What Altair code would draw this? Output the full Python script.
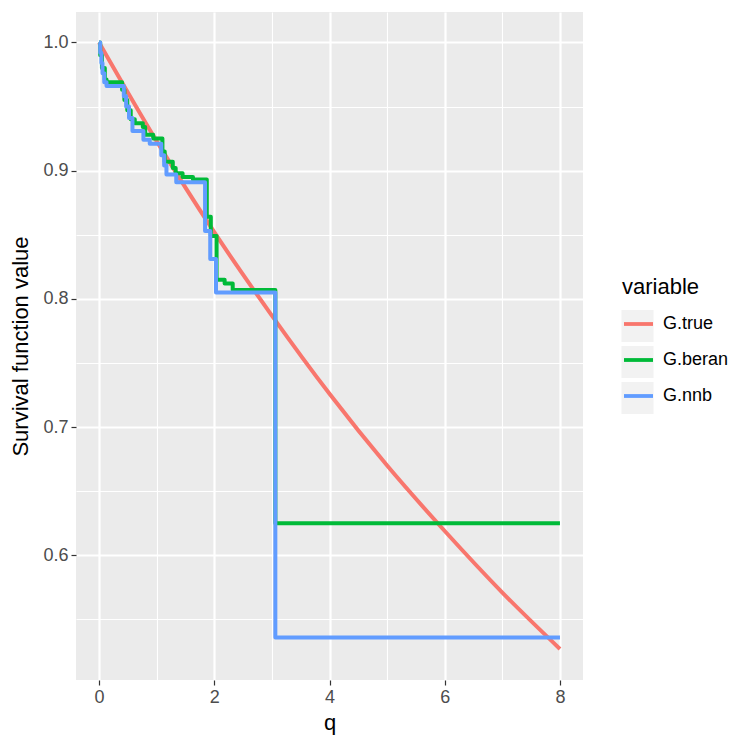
import altair as alt
import pandas as pd

# ---- data ----
series_names = ["G.true", "G.beran", "G.nnb"]
series_colors = ["#F8766D", "#00BA38", "#619CFF"]
key_names = ["key.true", "key.beran", "key.nnb"]

true_q = [0, 1, 2, 3, 4, 5, 6, 7, 8]
true_v = [1.000, 0.923, 0.852, 0.787, 0.726, 0.670, 0.619, 0.571, 0.527]

beran_q = [0.00, 0.02, 0.05, 0.10, 0.13, 0.40, 0.44, 0.49, 0.55, 0.62, 0.76, 0.80,
           0.94, 1.10, 1.14, 1.28, 1.33, 1.45, 1.63, 1.87, 1.94, 2.04, 2.18, 2.32,
           3.06, 8.00]
beran_v = [1.000, 0.990, 0.980, 0.971, 0.969, 0.963, 0.955, 0.947, 0.940, 0.937, 0.934, 0.928,
           0.925, 0.915, 0.907, 0.902, 0.898, 0.895, 0.893, 0.864, 0.849, 0.815, 0.812, 0.807,
           0.625, 0.625]

nnb_q = [0.00, 0.02, 0.04, 0.06, 0.09, 0.13, 0.43, 0.47, 0.52, 0.58, 0.77, 0.88,
         1.08, 1.13, 1.17, 1.34, 1.84, 1.93, 2.03, 3.06, 8.00]
nnb_v = [1.000, 0.992, 0.984, 0.976, 0.969, 0.966, 0.958, 0.950, 0.941, 0.931, 0.924, 0.921,
         0.912, 0.904, 0.897, 0.891, 0.853, 0.831, 0.805, 0.536, 0.536]

x_ticks = [0, 1, 2, 3, 4, 5, 6, 7, 8]
y_ticks = [0.55, 0.6, 0.65, 0.7, 0.75, 0.8, 0.85, 0.9, 0.95, 1.0]

df_true = pd.DataFrame({"q": true_q, "value": true_v, "variable": "G.true"})
df_beran = pd.DataFrame({"q": beran_q, "value": beran_v, "variable": "G.beran"})
df_nnb = pd.DataFrame({"q": nnb_q, "value": nnb_v, "variable": "G.nnb"})
# legend key backgrounds (invisible anchor points, one per series)
df_keys = pd.DataFrame({"q": [true_q[0], beran_q[0], nnb_q[0]],
                        "value": [true_v[0], beran_v[0], nnb_v[0]],
                        "key": key_names})

FONT = "Liberation Sans"
MINOR_X = "datum.value % 2 !== 0"
MINOR_Y = "abs(datum.value * 20 % 2 - 1) < 0.01"

xaxis = alt.Axis(
    values=x_ticks,
    labelExpr=f"{MINOR_X} ? '' : datum.label",
    gridWidth={"condition": {"test": MINOR_X, "value": 1.1}, "value": 2.2},
    tickOpacity={"condition": {"test": MINOR_X, "value": 0}, "value": 1},
    title="q",
)
yaxis = alt.Axis(
    values=y_ticks,
    format=".1f",
    labelExpr=f"{MINOR_Y} ? '' : datum.label",
    gridWidth={"condition": {"test": MINOR_Y, "value": 1.1}, "value": 2.2},
    tickOpacity={"condition": {"test": MINOR_Y, "value": 0}, "value": 1},
    title="Survival function value",
)

xs = alt.Scale(domain=[-0.4, 8.4], nice=False, zero=False)
ys = alt.Scale(domain=[0.5028, 1.0237], nice=False, zero=False)
cs = alt.Scale(domain=series_names, range=series_colors)
fs = alt.Scale(domain=key_names, range=["#F2F2F2", "#F2F2F2", "#F2F2F2"])

LEG_X = 546
LEG_Y = 265

legend = alt.Legend(
    title="variable",
    orient="none",
    legendX=LEG_X,
    legendY=LEG_Y,
    symbolType="stroke",
    symbolSize=841,
    symbolStrokeWidth=3.8,
    labelOffset=8,
    clipHeight=34,
    rowPadding=2,
    titlePadding=8,
    padding=0,
    zindex=2,
)

key_legend = alt.Legend(
    title=None,
    orient="none",
    legendX=LEG_X - 2.5,
    legendY=LEG_Y + 32,
    symbolType="square",
    symbolSize=1156,
    symbolStrokeColor="white",
    symbolStrokeWidth=2,
    symbolOpacity=1,
    labelExpr="''",
    labelOffset=0,
    clipHeight=34,
    rowPadding=2,
    padding=0,
    zindex=1,
)


def layer(df, interp):
    return alt.Chart(df).mark_line(
        strokeWidth=4.0, interpolate=interp, strokeJoin="round", clip=True
    ).encode(
        x=alt.X("q:Q", scale=xs, axis=xaxis),
        y=alt.Y("value:Q", scale=ys, axis=yaxis),
        color=alt.Color("variable:N", scale=cs, legend=legend),
    )


keys = alt.Chart(df_keys).mark_point(shape="square", filled=True, opacity=0).encode(
    x=alt.X("q:Q", scale=xs, axis=xaxis),
    y=alt.Y("value:Q", scale=ys, axis=yaxis),
    fill=alt.Fill("key:N", scale=fs, legend=key_legend),
)

chart = alt.layer(
    keys,
    layer(df_true, "monotone"),
    layer(df_beran, "step-after"),
    layer(df_nnb, "step-after"),
).properties(
    width=507,
    height=668,
    autosize=alt.AutoSizeParams(type="none"),
    padding={"left": 76, "top": 12, "right": 167, "bottom": 70},
    background="white",
).configure_view(
    fill="#EBEBEB", stroke=None
).configure_axis(
    gridColor="white",
    domain=False,
    tickColor="#333333",
    tickSize=5,
    tickWidth=1.2,
    labelColor="#4D4D4D",
    labelFont=FONT,
    labelFontSize=18,
    titleFont=FONT,
    titleFontSize=22,
    titleFontWeight="normal",
    titleColor="black",
    labelPadding=3,
).configure_axisX(
    titlePadding=6,
).configure_axisY(
    titlePadding=10,
).configure_legend(
    titleFont=FONT,
    titleFontSize=22,
    titleFontWeight="normal",
    titleColor="black",
    labelFont=FONT,
    labelFontSize=18,
    labelColor="black",
)

chart.save("out.html", embed_options={"renderer": "svg", "actions": False})
